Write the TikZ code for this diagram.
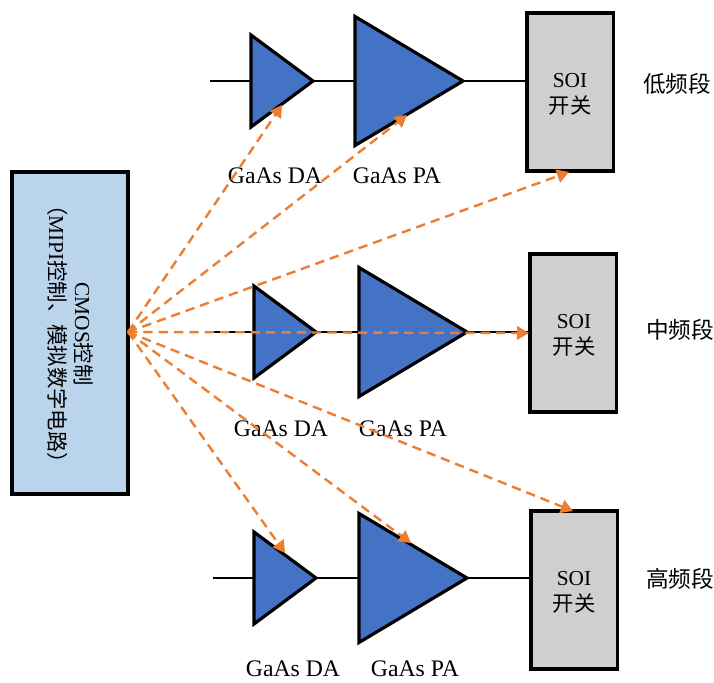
\documentclass[tikz,border=0pt]{standalone}
\usepackage{fontspec}
\setmainfont{Liberation Serif}
\newfontfamily\cjk{Noto Sans CJK SC}
\usetikzlibrary{shapes.geometric,arrows.meta}
\definecolor{ampblue}{HTML}{4472C4}
\definecolor{ctrlblue}{HTML}{BAD4EC}
\definecolor{soigray}{HTML}{D0CECE}
\definecolor{ctrlorange}{HTML}{ED7D31}
\tikzset{
  amp/.style={isosceles triangle,isosceles triangle stretches,shape border rotate=0,draw=black,fill=ampblue,line width=2.4pt,inner sep=0pt,outer sep=0pt,anchor=apex},
  da/.style={amp,minimum height=46.5pt,minimum width=69pt},
  pa/.style={amp,minimum height=81pt,minimum width=96.75pt},
  soibox/.style={rectangle,draw=black,fill=soigray,line width=2.4pt,inner sep=0pt,outer sep=0pt,minimum width=65pt,minimum height=118.5pt,anchor=north west},
  ctrlbox/.style={rectangle,draw=black,fill=ctrlblue,line width=2.3pt,inner sep=0pt,outer sep=0pt,minimum width=87pt,minimum height=241.5pt,anchor=north west},
  wire/.style={draw=black,line width=2.1pt},
  ctrl/.style={draw=ctrlorange,line width=1.8pt,dash pattern=on 7pt off 4.5pt,-{Triangle[length=9pt,width=10pt,fill=ctrlorange]}},
  amplabel/.style={font=\fontsize{17.8}{20}\selectfont,inner sep=0pt},
  soilabel/.style={font=\fontsize{16}{19.5}\selectfont,align=center,inner sep=0pt},
  bandlabel/.style={font=\fontsize{17}{20}\selectfont\cjk,inner sep=0pt},
  ctrllabel/.style={font=\fontsize{16}{19.5}\selectfont,align=center,rotate=-90,inner sep=0pt}
}
\begin{document}
\begin{tikzpicture}[x=0.75pt,y=-0.75pt]
\useasboundingbox (0,0) rectangle (714,682);
% control block
\node[ctrlbox] (cmos) at (12,172) {};
\node[ctrllabel] (cmostext) at (70,334) {CMOS{\cjk 控制}\\{\cjk （}MIPI{\cjk 控制、模拟数字电路）}};
\coordinate (src) at (128,332);
% low band
\coordinate (inL) at (210,81);
\node[da] (daL) at (313,81) {};
\node[pa] (paL) at (463,81) {};
\node[soibox] (soiL) at (527,13) {};
\draw[wire] (inL) -- (daL.lower side);
\draw[wire] (daL.apex) -- (paL.lower side);
\draw[wire] (paL.apex) -- (soiL.west |- paL.apex);
\node[soilabel] (soitextL) at (570,94) {SOI\\{\cjk 开关}};
\node[bandlabel] (bandL) at (677,84) {低频段};
\node[amplabel] (dalabelL) at (275,176) {GaAs DA};
\node[amplabel] (palabelL) at (397,176) {GaAs PA};
% mid band
\coordinate (inM) at (213,332);
\node[da] (daM) at (316,332) {};
\node[pa] (paM) at (467,332) {};
\node[soibox] (soiM) at (530,254) {};
\draw[wire] (inM) -- (daM.lower side);
\draw[wire] (daM.apex) -- (paM.lower side);
\draw[wire] (paM.apex) -- (soiM.west |- paM.apex);
\node[soilabel] (soitextM) at (574,335) {SOI\\{\cjk 开关}};
\node[bandlabel] (bandM) at (680,330) {中频段};
\node[amplabel] (dalabelM) at (281,429) {GaAs DA};
\node[amplabel] (palabelM) at (403,429) {GaAs PA};
% high band
\coordinate (inH) at (213,578);
\node[da] (daH) at (316,578) {};
\node[pa] (paH) at (467,578) {};
\node[soibox] (soiH) at (531,511) {};
\draw[wire] (inH) -- (daH.lower side);
\draw[wire] (daH.apex) -- (paH.lower side);
\draw[wire] (paH.apex) -- (soiH.west |- paH.apex);
\node[soilabel] (soitextH) at (574,592) {SOI\\{\cjk 开关}};
\node[bandlabel] (bandH) at (680,579) {高频段};
\node[amplabel] (dalabelH) at (293,669) {GaAs DA};
\node[amplabel] (palabelH) at (415,669) {GaAs PA};
% control arrows
\coordinate (tDaL) at (282,105);
\coordinate (tPaL) at (407,115);
\coordinate (tSoiL) at (569,172);
\coordinate (tSoiM) at (529,333);
\coordinate (tSoiH) at (573,511);
\coordinate (tPaH) at (411,543);
\coordinate (tDaH) at (285,553);
\foreach \t in {tDaL,tPaL,tSoiL,tSoiM,tSoiH,tPaH,tDaH}
  \draw[ctrl] (src) -- (\t);
\end{tikzpicture}
\end{document}
